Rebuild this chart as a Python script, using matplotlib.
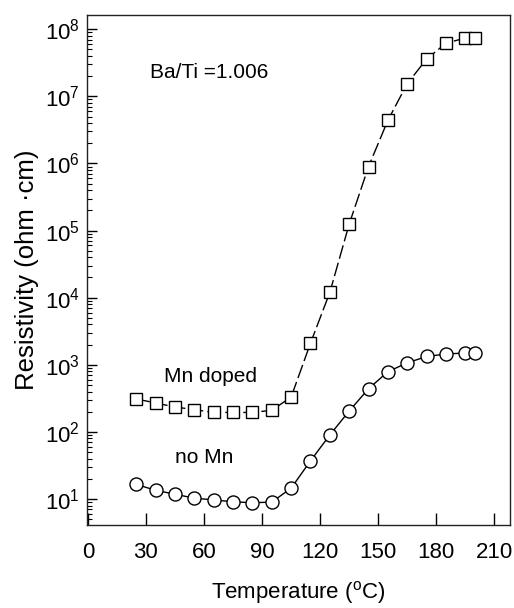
import matplotlib
matplotlib.use('Agg')
import matplotlib.pyplot as plt

plt.rcParams['font.family'] = ['Liberation Sans', 'DejaVu Sans']
plt.rcParams['mathtext.fontset'] = 'custom'
plt.rcParams['mathtext.rm'] = 'Liberation Sans'
plt.rcParams['mathtext.it'] = 'Liberation Sans:italic'
plt.rcParams['mathtext.bf'] = 'Liberation Sans:bold'

# temperature (deg C)
temp = [25, 35, 45, 55, 65, 75, 85, 95, 105, 115,
        125, 135, 145, 155, 165, 175, 185, 195, 200]

# resistivity (ohm cm), Mn doped
rho_mn = [310, 270, 235, 215, 195, 195, 195, 210, 330, 2100,
          1.2e4, 1.25e5, 9.0e5, 4.4e6, 1.55e7, 3.6e7, 6.2e7, 7.4e7, 7.4e7]

# resistivity (ohm cm), no Mn
rho_nomn = [16.5, 13.5, 11.8, 10.3, 9.7, 9.1, 8.8, 9.0, 14.5, 37,
            90, 205, 440, 790, 1070, 1330, 1450, 1500, 1500]

xticks = [0, 30, 60, 90, 120, 150, 180, 210]

fig = plt.figure(figsize=(5.14, 6.08), dpi=100)
ax = fig.add_axes([0.169, 0.1365, 0.823, 0.8385])

# Mn doped: squares, long dashes
ax.plot(temp, rho_mn, color='black', linewidth=1.0, linestyle=(0, (10, 3)),
        marker='s', markersize=8.2, markerfacecolor='white',
        markeredgecolor='black', markeredgewidth=1.0)

# no Mn: circles, solid line
ax.plot(temp, rho_nomn, color='black', linewidth=1.0,
        marker='o', markersize=9.4, markerfacecolor='white',
        markeredgecolor='black', markeredgewidth=1.0)

ax.set_yscale('log')
ax.set_xlim(-0.5, 218)
ax.set_ylim(4.1, 1.62e8)
ax.set_xticks(xticks)

ax.tick_params(axis='x', which='major', direction='in', length=8.5, width=1.0,
               labelsize=16, pad=12)
ax.tick_params(axis='y', which='major', direction='in', length=7, width=1.0,
               labelsize=16, pad=5)
ax.tick_params(axis='y', which='minor', direction='in', length=3.6, width=0.8)
ax.tick_params(top=False, right=False, which='both')

for s in ax.spines.values():
    s.set_linewidth(1.0)
    s.set_color('#222222')

ax.set_xlabel('Temperature ($\\mathregular{^o}$C)', fontsize=16, labelpad=12)
ax.set_ylabel('Resistivity (ohm \u00b7cm)', fontsize=18.5, labelpad=4)

ax.text(32, 2.3e7, 'Ba/Ti =1.006', fontsize=15, ha='left', va='center')
ax.text(63.5, 660, 'Mn doped', fontsize=15, ha='center', va='center')
ax.text(60, 41, 'no Mn', fontsize=15, ha='center', va='center')

fig.savefig('out.png', dpi=100)
